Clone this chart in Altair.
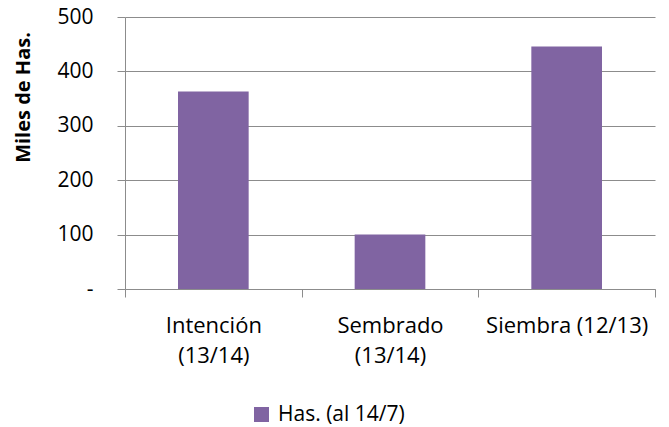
import altair as alt
import pandas as pd

categories = ["Intención\n(13/14)", "Sembrado\n(13/14)", "Siembra (12/13)"]
values = [363, 100, 446]
series_name = "Has. (al 14/7)"

df = pd.DataFrame({"cat": categories, "val": values, "serie": [series_name] * 3})

FONT = "Open Sans"
GRAY = "#8c8c8c"
FS = 21

chart = alt.Chart(df).mark_bar(width=alt.RelativeBandSize(0.4)).encode(
    x=alt.X(
        "cat:N",
        sort=categories,
        scale=alt.Scale(paddingInner=0, paddingOuter=0),
        axis=alt.Axis(
            title=None,
            labelAngle=0,
            labelExpr="split(datum.label, '\\n')",
            labelLineHeight=30,
            labelPadding=18,
            labelBaseline="top",
            tickBand="extent",
            tickSize=8,
            tickColor=GRAY,
            domainColor=GRAY,
            grid=False,
            labelFontSize=22,
            labelFont=FONT,
            labelColor="black",
        ),
    ),
    y=alt.Y(
        "val:Q",
        scale=alt.Scale(domain=[0, 500]),
        axis=alt.Axis(
            title="Miles de Has.",
            titleFont=FONT,
            titleFontSize=20,
            titleFontWeight="bold",
            titleColor="black",
            titleAngle=270,
            titleX=-102,
            titleY=80,
            titleAlign="center",
            titleBaseline="middle",
            values=[0, 100, 200, 300, 400, 500],
            labelExpr="datum.value == 0 ? '-' : datum.label",
            labelFont=FONT,
            labelFontSize=FS,
            labelColor="black",
            labelPadding=24,
            tickSize=8,
            tickColor=GRAY,
            domainColor=GRAY,
            gridColor=GRAY,
            gridOpacity=1,
            gridWidth=1.2,
        ),
    ),
    fill=alt.Fill(
        "serie:N",
        scale=alt.Scale(range=["#8064A2"]),
        legend=alt.Legend(
            title=None,
            orient="none",
            legendX=126,
            legendY=387,
            symbolType="square",
            symbolSize=225,
            symbolStrokeWidth=0,
            symbolOpacity=1,
            labelFont=FONT,
            labelFontSize=FS,
            labelColor="black",
            labelOffset=6,
        ),
    ),
).properties(
    width=530,
    height=272,
    padding={"left": 117, "top": 9, "right": 6, "bottom": 140},
    autosize=alt.AutoSizeParams(type="none"),
).configure_view(stroke=None)

chart.save("out.html", embed_options={"renderer": "svg", "actions": False})
